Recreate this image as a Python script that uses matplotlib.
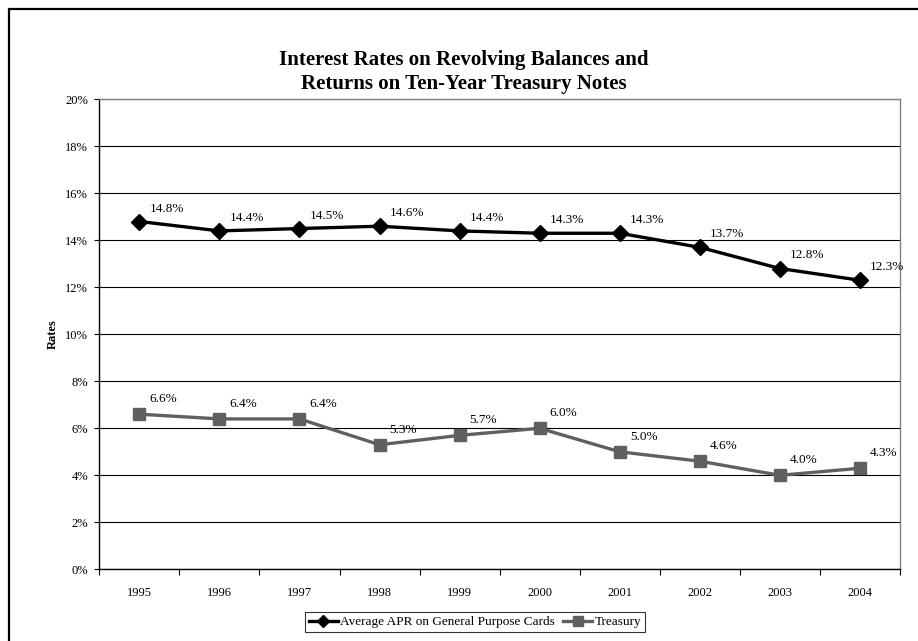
import matplotlib
matplotlib.use("Agg")
import matplotlib.pyplot as plt
import matplotlib.patches as patches
from matplotlib.ticker import FixedLocator, FuncFormatter

plt.rcParams['font.family'] = ['Liberation Serif', 'DejaVu Serif']

# yearly values (percent)
years = ['1995', '1996', '1997', '1998', '1999', '2000', '2001', '2002', '2003', '2004']
apr_rates = [14.8, 14.4, 14.5, 14.6, 14.4, 14.3, 14.3, 13.7, 12.8, 12.3]
treasury_rates = [6.6, 6.4, 6.4, 5.3, 5.7, 6.0, 5.0, 4.6, 4.0, 4.3]
series_names = ['Average APR on General Purpose Cards', 'Treasury']

W, H = 918, 641
fig = plt.figure(figsize=(W / 100, H / 100), dpi=100)

# plot area in pixel terms
left, right, top, bottom = 99.3, 900.0, 99.3, 569.3
ax = fig.add_axes([left / W, 1 - bottom / H, (right - left) / W, (bottom - top) / H])

x = list(range(len(years)))
ax.plot(x, apr_rates, color='black', lw=2.4, marker='D', ms=8,
        label=series_names[0], zorder=4)
ax.plot(x, treasury_rates, color='#606060', lw=2.4, marker='s', ms=9,
        label=series_names[1], zorder=3)

for xi, v in zip(x, apr_rates):
    ax.annotate('%.1f%%' % v, (xi, v), xytext=(10, 13), textcoords='offset pixels',
                ha='left', va='center', fontsize=9.5)
for xi, v in zip(x, treasury_rates):
    ax.annotate('%.1f%%' % v, (xi, v), xytext=(10, 15), textcoords='offset pixels',
                ha='left', va='center', fontsize=9.5)

ax.set_xlim(-0.5, len(years) - 0.5)
ax.set_ylim(0, 20)

# y axis
ax.yaxis.set_major_locator(FixedLocator(range(0, 21, 2)))
ax.yaxis.set_major_formatter(FuncFormatter(lambda v, p: '%d%%' % v))
ax.tick_params(axis='y', direction='out', length=3.5, width=0.8, pad=4.5, labelsize=9)
ax.grid(axis='y', color='black', lw=0.8)
ax.set_axisbelow(True)
ax.set_ylabel('Rates', fontsize=9, fontweight='bold', labelpad=5)

# x axis: ticks between categories, labels centred
ax.xaxis.set_major_locator(FixedLocator([i - 0.5 for i in range(len(years) + 1)]))
ax.xaxis.set_minor_locator(FixedLocator(x))
ax.xaxis.set_major_formatter(FuncFormatter(lambda v, p: ''))
ax.xaxis.set_minor_formatter(FuncFormatter(lambda v, p: years[int(round(v))]))
ax.tick_params(axis='x', which='major', direction='out', length=4, width=0.8)
ax.tick_params(axis='x', which='minor', length=0, pad=13, labelsize=9)

for s in ['top', 'right']:
    ax.spines[s].set_color('#808080')
    ax.spines[s].set_linewidth(1)
for s in ['left', 'bottom']:
    ax.spines[s].set_color('black')
    ax.spines[s].set_linewidth(1)

fig.text(464 / W, 1 - 60 / H, 'Interest Rates on Revolving Balances and',
         ha='center', va='center', fontsize=15, fontweight='bold')
fig.text(464 / W, 1 - 84 / H, 'Returns on Ten-Year Treasury Notes',
         ha='center', va='center', fontsize=15, fontweight='bold')

leg = fig.legend(loc='center', bbox_to_anchor=(475 / W, 1 - 622 / H), ncol=2,
                 fontsize=9.5, frameon=True, fancybox=False, handlelength=2.2,
                 handletextpad=0.2, columnspacing=0.6, borderpad=0.3,
                 markerscale=0.8)
leg.get_frame().set_edgecolor('black')
leg.get_frame().set_linewidth(0.8)

# chart frame, running off the right and bottom edges
fig.patches.append(patches.Rectangle((8.7 / W, -0.1), 1.2, 1.1 - 9.5 / H,
                                     transform=fig.transFigure, fill=False,
                                     edgecolor='black', lw=1.6, clip_on=False))

fig.savefig('out.png', dpi=100)
